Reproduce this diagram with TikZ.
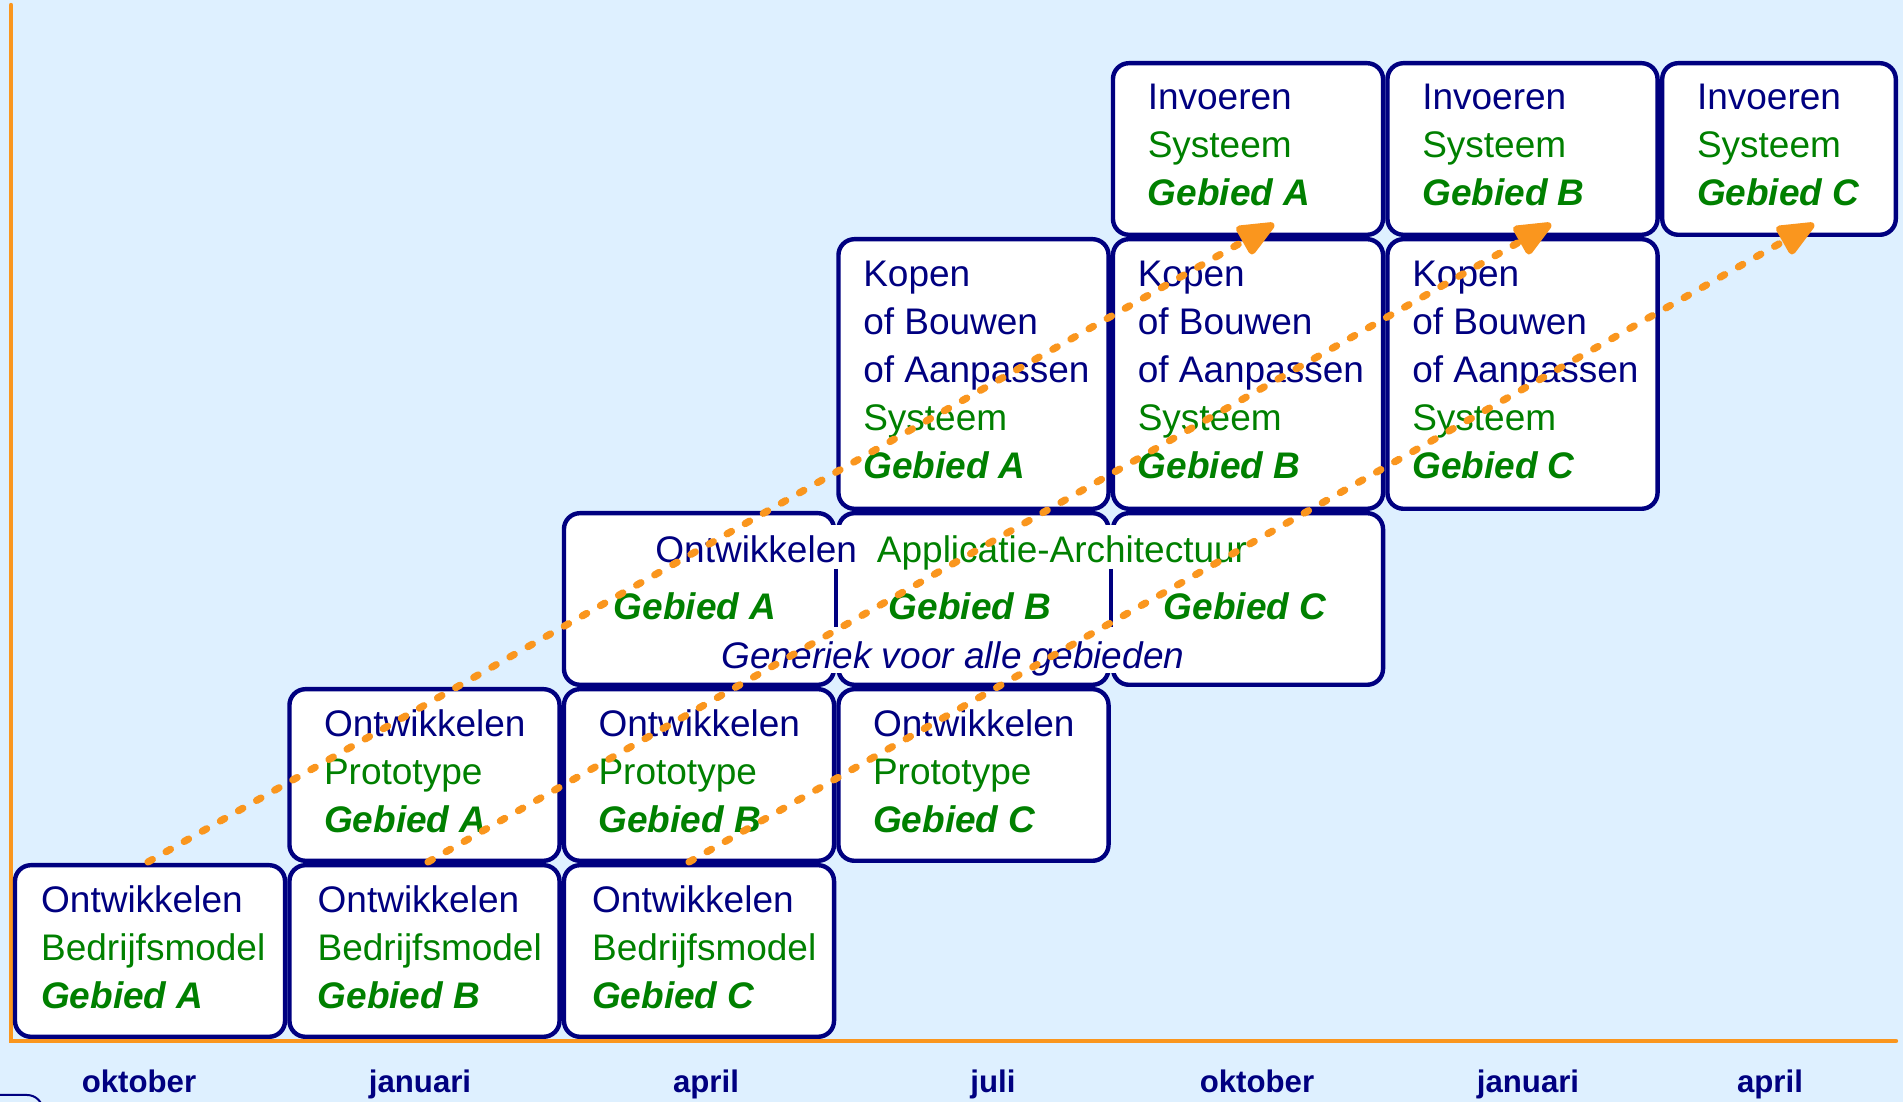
\documentclass[tikz,border=0pt]{standalone}
\usepackage{fontspec}
\setmainfont{Liberation Sans}
\usepackage{xcolor}
\usetikzlibrary{calc,arrows.meta}

\definecolor{donkerblauw}{RGB}{0,0,128}
\definecolor{groen}{RGB}{0,128,0}
\definecolor{oranje}{RGB}{250,150,30}
\definecolor{lichtblauw}{RGB}{222,240,255}

\newcommand{\gr}[1]{{\color{groen}#1}}
\newcommand{\gb}[1]{{\color{groen}\bfseries\itshape #1}}

\begin{document}
\begin{tikzpicture}[x=0.5pt, y=0.5pt,
  box/.style = {draw=donkerblauw, line width=2.2pt, rounded corners=8pt,
    fill=white, minimum width=135.05pt, minimum height=85.8pt, inner sep=0pt},
  hoog/.style = {box, minimum height=134.8pt},
  smal/.style = {box, minimum width=116.8pt},
  txt/.style = {anchor=west, align=left, inner sep=0pt, yshift=2pt,
    text=donkerblauw, font=\fontsize{18.5}{24}\selectfont},
  maand/.style = {anchor=base, inner sep=0pt, text=donkerblauw,
    font=\bfseries\fontsize{15.6}{18}\selectfont},
  pijl/.style = {draw=oranje, line width=3.6pt, line cap=round,
    dash pattern=on 2.5pt off 7.9pt,
    -{Triangle[length=21pt, width=17pt, round]}}]
  \fill[lichtblauw] (0,0) rectangle (1903,1102);
  \useasboundingbox (0,0) rectangle (1903,1102);
  \draw[donkerblauw, line width=1pt, rounded corners=8pt] (-60,-40) rectangle (43,7);

  % tijdas
  \coordinate (o) at (11,61);
  \draw[oranje, line width=2.2pt, line cap=round] (11,1097) -- (o) -- (1896,61);

  % bedrijfsmodel
  \node[box] (bm1) at (150,151) {};
  \node[box] (bm2) at (424.5,151) {};
  \node[box] (bm3) at (699,151) {};
  \node[txt] (bm1t) at ([xshift=14pt]bm1.west) {Ontwikkelen\\ \gr{Bedrijfsmodel}\\ \gb{Gebied A}};
  \node[txt] (bm2t) at ([xshift=15pt]bm2.west) {Ontwikkelen\\ \gr{Bedrijfsmodel}\\ \gb{Gebied B}};
  \node[txt] (bm3t) at ([xshift=15pt]bm3.west) {Ontwikkelen\\ \gr{Bedrijfsmodel}\\ \gb{Gebied C}};

  % prototype
  \node[box] (pt1) at (424.5,327) {};
  \node[box] (pt2) at (699,327) {};
  \node[box] (pt3) at (973.5,327) {};
  \node[txt] (pt1t) at ([xshift=18.2pt]pt1.west) {Ontwikkelen\\ \gr{Prototype}\\ \gb{Gebied A}};
  \node[txt] (pt2t) at ([xshift=18.2pt]pt2.west) {Ontwikkelen\\ \gr{Prototype}\\ \gb{Gebied B}};
  \node[txt] (pt3t) at ([xshift=18.2pt]pt3.west) {Ontwikkelen\\ \gr{Prototype}\\ \gb{Gebied C}};

  % applicatie-architectuur
  \node[box] (aa1) at (699,503) {};
  \node[box] (aa2) at (973.5,503) {};
  \node[box] (aa3) at (1248,503) {};
  \fill[white] ($(aa1.north west)+(20,-14)$) rectangle ($(aa3.south east)+(-20,14)$);
  \draw[donkerblauw, line width=2.2pt] ($(aa1.east)+(0,30)$) -- ($(aa1.east)+(0,-28)$);
  \draw[donkerblauw, line width=2.2pt] ($(aa2.east)+(0,30)$) -- ($(aa2.east)+(0,-28)$);
  \node[txt, anchor=base west, yshift=0pt] (aat) at (655,535) {Ontwikkelen\hspace{10pt}\gr{Applicatie-Architectuur}};
  \node[txt, anchor=base, yshift=0pt] (aa1t) at (695,478) {\gb{Gebied A}};
  \node[txt, anchor=base, yshift=0pt] (aa2t) at (970,478) {\gb{Gebied B}};
  \node[txt, anchor=base, yshift=0pt] (aa3t) at (1245,478) {\gb{Gebied C}};
  \node[txt, anchor=base, yshift=0pt, font=\itshape\fontsize{18.5}{24}\selectfont] (aagt) at (953,429) {Generiek voor alle gebieden};

  % kopen of bouwen
  \node[hoog] (kb1) at (973.5,728) {};
  \node[hoog] (kb2) at (1248,728) {};
  \node[hoog] (kb3) at (1522.5,728) {};
  \node[txt] (kb1t) at ([xshift=13.3pt]kb1.west) {Kopen\\ of Bouwen\\ of Aanpassen\\ \gr{Systeem}\\ \gb{Gebied A}};
  \node[txt] (kb2t) at ([xshift=13.3pt]kb2.west) {Kopen\\ of Bouwen\\ of Aanpassen\\ \gr{Systeem}\\ \gb{Gebied B}};
  \node[txt] (kb3t) at ([xshift=13.3pt]kb3.west) {Kopen\\ of Bouwen\\ of Aanpassen\\ \gr{Systeem}\\ \gb{Gebied C}};

  % invoeren
  \node[box] (iv1) at (1248,953) {};
  \node[box] (iv2) at (1522.5,953) {};
  \node[smal] (iv3) at (1779,953) {};
  \node[txt] (iv1t) at ([xshift=18.3pt]iv1.west) {Invoeren\\ \gr{Systeem}\\ \gb{Gebied A}};
  \node[txt] (iv2t) at ([xshift=18.3pt]iv2.west) {Invoeren\\ \gr{Systeem}\\ \gb{Gebied B}};
  \node[txt] (iv3t) at ([xshift=18.3pt]iv3.west) {Invoeren\\ \gr{Systeem}\\ \gb{Gebied C}};

  \draw[pijl] ($(bm1.north)+(-2,1)$) -- ($(iv1.south)+(26,13)$);
  \draw[pijl] ($(bm2.north)+(3.5,1)$) -- ($(iv2.south)+(28.5,13)$);
  \draw[pijl] ($(bm3.north)+(-10,1)$) -- ($(iv3.south)+(35,13)$);

  \node[maand] (m1) at (139,9) {oktober};
  \node[maand] (m2) at (420,9) {januari};
  \node[maand] (m3) at (706,9) {april};
  \node[maand] (m4) at (993,9) {juli};
  \node[maand] (m5) at (1257,9) {oktober};
  \node[maand] (m6) at (1528,9) {januari};
  \node[maand] (m7) at (1770,9) {april};
\end{tikzpicture}
\end{document}
